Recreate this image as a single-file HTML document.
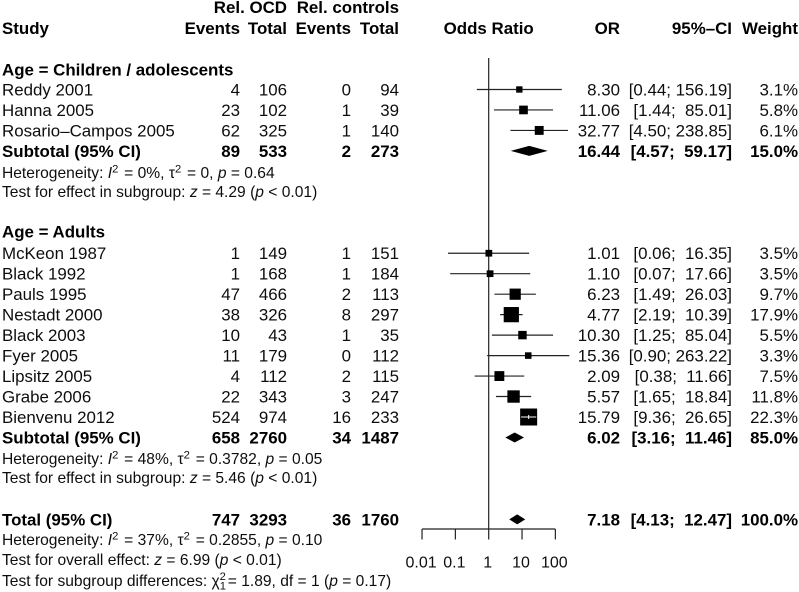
<!DOCTYPE html>
<html lang="en">
<head>
<meta charset="utf-8">
<title>Forest plot</title>
<style>
html,body{margin:0;padding:0;background:#fff;}
svg{display:block;}
text{font-family:"Liberation Sans",Arial,sans-serif;font-size:16.9px;fill:#111;white-space:pre;}
.b{font-weight:bold;fill:#000;}
.n{font-size:15.6px;}
.i{font-style:italic;}
.sup{font-size:11.2px;}
.m{text-anchor:end;}
.tick{font-size:16px;}
</style>
</head>
<body>
<svg id="plot" xmlns="http://www.w3.org/2000/svg" width="799" height="592" viewBox="0 0 799 592">
  <g filter="url(#soft)" id="root">
    <g>
      <text class="b m" x="287" y="13">Rel. OCD</text>
      <text class="b m" x="399" y="13">Rel. controls</text>
      <text class="b" x="2" y="34">Study</text>
      <text class="b m" x="240" y="34">Events</text>
      <text class="b m" x="287" y="34">Total</text>
      <text class="b m" x="351" y="34">Events</text>
      <text class="b m" x="399" y="34">Total</text>
      <text class="b" x="488.7" y="34" style="text-anchor:middle">Odds Ratio</text>
      <text class="b m" x="620" y="34">OR</text>
      <text class="b m" x="732" y="34">95%–CI</text>
      <text class="b m" x="798" y="34">Weight</text>
    </g>
    <g>
      <text class="b" x="2" y="75.5">Age = Children / adolescents</text>
      <text class="n" x="2" y="178">Heterogeneity: <tspan class="i">I</tspan><tspan class="sup" dy="-5.5">2</tspan><tspan dy="5.5" dx="1.5"> = 0%, τ</tspan><tspan class="sup" dy="-5.5">2</tspan><tspan dy="5.5" dx="1.5"> = 0, </tspan><tspan class="i">p</tspan> = 0.64</text>
      <text class="n" x="2" y="197">Test for effect in subgroup: <tspan class="i">z</tspan> = 4.29 (<tspan class="i">p</tspan> &lt; 0.01)</text>
      <text class="b" x="2" y="237.5">Age = Adults</text>
      <text class="n" x="2" y="464">Heterogeneity: <tspan class="i">I</tspan><tspan class="sup" dy="-5.5">2</tspan><tspan dy="5.5" dx="1.5"> = 48%, τ</tspan><tspan class="sup" dy="-5.5">2</tspan><tspan dy="5.5" dx="1.5"> = 0.3782, </tspan><tspan class="i">p</tspan> = 0.05</text>
      <text class="n" x="2" y="483">Test for effect in subgroup: <tspan class="i">z</tspan> = 5.46 (<tspan class="i">p</tspan> &lt; 0.01)</text>
      <text class="n" x="2" y="545">Heterogeneity: <tspan class="i">I</tspan><tspan class="sup" dy="-5.5">2</tspan><tspan dy="5.5" dx="1.5"> = 37%, τ</tspan><tspan class="sup" dy="-5.5">2</tspan><tspan dy="5.5" dx="1.5"> = 0.2855, </tspan><tspan class="i">p</tspan> = 0.10</text>
      <text class="n" x="2" y="565">Test for overall effect: <tspan class="i">z</tspan> = 6.99 (<tspan class="i">p</tspan> &lt; 0.01)</text>
      <text class="n" x="2" y="586">Test for subgroup differences: χ<tspan class="sup" dy="-6">2</tspan><tspan class="sup" dy="9.5" dx="-6.2">1</tspan><tspan dy="-3.5" dx="-2.5"> = 1.89, df = 1 (</tspan><tspan class="i">p</tspan> = 0.17)</text>
    </g>
    <g id="table"></g>
    <g id="chart"></g>
  </g>
  <defs>
    <filter id="soft" x="0" y="0" width="100%" height="100%"><feGaussianBlur stdDeviation="0.3"/></filter>
  </defs>
</svg>
<script>
/* Chart data */
var studies = ["Reddy 2001","Hanna 2005","Rosario–Campos 2005","McKeon 1987","Black 1992","Pauls 1995","Nestadt 2000","Black 2003","Fyer 2005","Lipsitz 2005","Grabe 2006","Bienvenu 2012"];
var eventsOcd = [4,23,62,1,1,47,38,10,11,4,22,524];
var totalOcd = [106,102,325,149,168,466,326,43,179,112,343,974];
var eventsControls = [0,1,1,1,1,2,8,1,0,2,3,16];
var totalControls = [94,39,140,151,184,113,297,35,112,115,247,233];
var oddsRatio = [8.30,11.06,32.77,1.01,1.10,6.23,4.77,10.30,15.36,2.09,5.57,15.79];
var ciLower = [0.44,1.44,4.50,0.06,0.07,1.49,2.19,1.25,0.90,0.38,1.65,9.36];
var ciUpper = [156.19,85.01,238.85,16.35,17.66,26.03,10.39,85.04,263.22,11.66,18.84,26.65];
var weight = [3.1,5.8,6.1,3.5,3.5,9.7,17.9,5.5,3.3,7.5,11.8,22.3];

var summaryLabels = ["Subtotal (95% CI)","Subtotal (95% CI)","Total (95% CI)"];
var summaryEventsOcd = [89,658,747];
var summaryTotalOcd = [533,2760,3293];
var summaryEventsControls = [2,34,36];
var summaryTotalControls = [273,1487,1760];
var summaryOr = [16.44,6.02,7.18];
var summaryLower = [4.57,3.16,4.13];
var summaryUpper = [59.17,11.46,12.47];
var summaryWeight = [15.0,85.0,100.0];

var axisTicks = [0.01,0.1,1,10,100];
var axisTickLabels = ["0.01","0.1","1","10","100"];

var SVGNS = "http://www.w3.org/2000/svg";
var table = document.getElementById("table");
var chart = document.getElementById("chart");

function xScale(v){ return 488.7 + 33.33 * (Math.log(v) / Math.LN10); }
function rowY(n){ return 7.6 + 20.47 * n; }
function studyRow(i){ return i < 3 ? 4 + i : 9 + i; }
function summaryRow(i){ return [7,21,25][i]; }
function fmtCi(lo, hi){
  var h = hi.toFixed(2);
  return "[" + lo.toFixed(2) + ";" + (h.length < 6 ? "  " : " ") + h + "]";
}
function addText(parent, str, x, n, anchor, bold, name){
  var t = document.createElementNS(SVGNS, "text");
  t.setAttribute("x", x);
  t.setAttribute("y", rowY(n) + 6);
  t.setAttribute("text-anchor", anchor);
  if (bold) t.setAttribute("class", "b");
  
  
  t.textContent = str;
  parent.appendChild(t);
  return t;
}
function addLine(x1, y1, x2, y2, color, w, name){
  var l = document.createElementNS(SVGNS, "line");
  l.setAttribute("x1", x1);
  l.setAttribute("y1", y1);
  l.setAttribute("x2", x2);
  l.setAttribute("y2", y2);
  l.setAttribute("stroke", color);
  l.setAttribute("stroke-width", w);
  
  
  chart.appendChild(l);
}
function addRowText(n, label, a, b, c, d, or, lo, hi, w, bold, key){
  addText(table, label, 2, n, "start", bold, key + "-label");
  addText(table, String(a), 240, n, "end", bold, key + "-events-ocd");
  addText(table, String(b), 287, n, "end", bold, key + "-total-ocd");
  addText(table, String(c), 351, n, "end", bold, key + "-events-controls");
  addText(table, String(d), 399, n, "end", bold, key + "-total-controls");
  addText(table, or.toFixed(2), 620, n, "end", bold, key + "-or");
  addText(table, fmtCi(lo, hi), 732, n, "end", bold, key + "-ci");
  addText(table, w.toFixed(1) + "%", 798, n, "end", bold, key + "-weight");
}

/* reference line and axis */
addLine(xScale(1), 58, xScale(1), 529, "#222", 1.2, "reference-line");
addLine(xScale(axisTicks[0]), 529, xScale(axisTicks[axisTicks.length - 1]), 529, "#222", 1.2, "x-axis-line");
axisTicks.forEach(function(v, i){
  addLine(xScale(v), 529, xScale(v), 539.5, "#222", 1.2, "x-axis-tick");
  var t = document.createElementNS(SVGNS, "text");
  t.setAttribute("x", xScale(v) - 1);
  t.setAttribute("y", 567.5);
  t.setAttribute("text-anchor", "middle");
  t.setAttribute("class", "tick");
  
  
  t.textContent = axisTickLabels[i];
  chart.appendChild(t);
});

/* studies */
studies.forEach(function(s, i){
  var n = studyRow(i), y = rowY(n), size = 3.6 * Math.sqrt(weight[i]);
  addRowText(n, s, eventsOcd[i], totalOcd[i], eventsControls[i], totalControls[i], oddsRatio[i], ciLower[i], ciUpper[i], weight[i], false, "study-" + i);
  addLine(xScale(ciLower[i]), y, xScale(ciUpper[i]), y, "#222", 1.2, "ci-line");
  var r = document.createElementNS(SVGNS, "rect");
  r.setAttribute("x", xScale(oddsRatio[i]) - size / 2);
  r.setAttribute("y", y - size / 2);
  r.setAttribute("width", size);
  r.setAttribute("height", size);
  r.setAttribute("fill", "#000");
  
  
  chart.appendChild(r);
  var half = size / 2;
  var xo = xScale(oddsRatio[i]);
  if (xScale(ciLower[i]) > xo - half && xScale(ciUpper[i]) < xo + half) {
    addLine(xScale(ciLower[i]), y, xScale(ciUpper[i]), y, "#fff", 1, "ci-line-inside-square");
    addLine(xo, y - 2, xo, y + 2, "#fff", 1, "or-tick-inside-square");
  }
});

/* summaries */
summaryLabels.forEach(function(s, i){
  var n = summaryRow(i), y = rowY(n);
  addRowText(n, s, summaryEventsOcd[i], summaryTotalOcd[i], summaryEventsControls[i], summaryTotalControls[i], summaryOr[i], summaryLower[i], summaryUpper[i], summaryWeight[i], true, "summary-" + i);
  var p = document.createElementNS(SVGNS, "polygon");
  p.setAttribute("points", [
    xScale(summaryLower[i]) + "," + y,
    xScale(summaryOr[i]) + "," + (y - 5),
    xScale(summaryUpper[i]) + "," + y,
    xScale(summaryOr[i]) + "," + (y + 5)
  ].join(" "));
  p.setAttribute("fill", "#000");
  
  
  chart.appendChild(p);
});
</script>
</body>
</html>
